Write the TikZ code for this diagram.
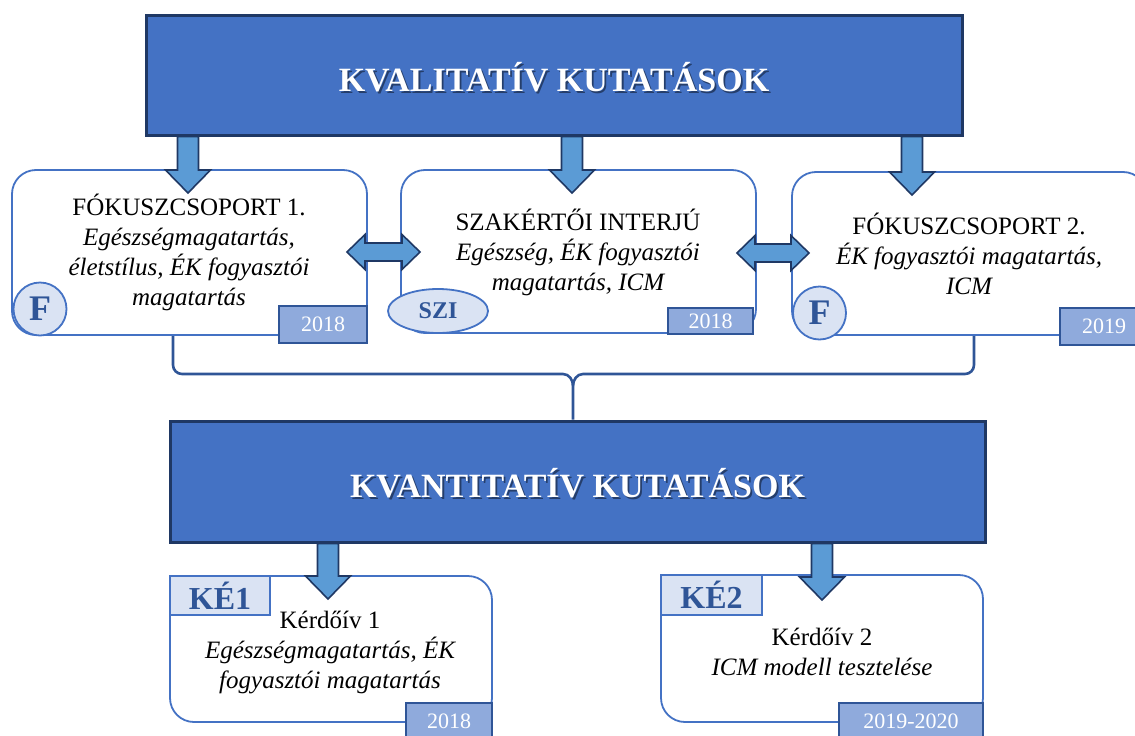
\documentclass[tikz,border=0pt]{standalone}
\usepackage{fontspec}
\setmainfont{Liberation Serif}[ItalicFont={Liberation Serif Italic},BoldFont={Liberation Serif Bold}]
\usetikzlibrary{calc,shapes.geometric}
\definecolor{bannerfill}{HTML}{4472C4}
\definecolor{bannerline}{HTML}{1F3864}
\definecolor{arrowfill}{HTML}{5B9BD5}
\definecolor{boxline}{HTML}{4472C4}
\definecolor{yearfill}{HTML}{8FAADC}
\definecolor{yearline}{HTML}{2F5597}
\definecolor{lightfill}{HTML}{DAE3F3}
\definecolor{darktext}{HTML}{2F5597}
\newcommand\dnarrow[2]{%
  \path let \p1=(#2), \p2=(#1.south) in
   [blockarrow] (\x1-10.5pt,\y2) -- (\x1+10.5pt,\y2) -- (\x1+10.5pt,\y1+23pt)
   -- (\x1+22.5pt,\y1+23pt) -- (\x1,\y1) -- (\x1-22.5pt,\y1+23pt)
   -- (\x1-10.5pt,\y1+23pt) -- cycle;}
\newcommand\dblarrow[2]{%
  \path let \p1=(#1), \p2=(#2) in
   [blockarrow] (\x1,\y1) -- (\x1+18pt,\y1+17.5pt) -- (\x1+18pt,\y1+9pt)
   -- (\x2-18pt,\y1+9pt) -- (\x2-18pt,\y1+17.5pt) -- (\x2,\y1)
   -- (\x2-18pt,\y1-17.5pt) -- (\x2-18pt,\y1-9pt) -- (\x1+18pt,\y1-9pt)
   -- (\x1+18pt,\y1-17.5pt) -- cycle;}
\begin{document}
\begin{tikzpicture}[x=1pt,y=-1pt,
  banner/.style={draw=bannerline,fill=bannerfill,line width=3pt,inner sep=0pt},
  titletext/.style={text=white,font=\fontsize{34}{40}\selectfont\bfseries,inner sep=0pt},
  titleshadow/.style={text=black,opacity=0.45,font=\fontsize{34}{40}\selectfont\bfseries,inner sep=0pt},
  rbox/.style={draw=boxline,fill=white,line width=1.8pt,rounded corners=24pt,inner sep=0pt},
  boxtext/.style={align=center,font=\fontsize{25}{30}\selectfont,inner sep=0pt},
  yearbox/.style={draw=yearline,fill=yearfill,line width=1.8pt,inner sep=0pt,
     text=white,font=\fontsize{22}{26}\selectfont,minimum height=37pt},
  fcircle/.style={circle,draw=boxline,fill=lightfill,line width=1.8pt,inner sep=0pt,
     minimum size=53pt,text=darktext,font=\fontsize{36}{40}\selectfont\bfseries},
  szell/.style={ellipse,draw=boxline,fill=lightfill,line width=1.8pt,inner sep=0pt,
     minimum width=100pt,minimum height=44pt,text=darktext,font=\fontsize{24}{28}\selectfont\bfseries},
  kelabel/.style={draw=boxline,fill=lightfill,line width=1.8pt,inner sep=0pt,
     minimum width=100pt,minimum height=39pt,text=darktext,font=\fontsize{32}{36}\selectfont\bfseries},
  blockarrow/.style={fill=arrowfill,draw=bannerline,line width=1.6pt,line join=miter},
  bracestyle/.style={draw=yearline,line width=2.6pt}]
\useasboundingbox (0,0) rectangle (1135,736);
\clip (0,0) rectangle (1135,736);

% banners
\node[banner,minimum width=816pt,minimum height=120pt] (kval) at (554,75) {};
\node[titleshadow] (kvalsh) at (555.8,78.8) {KVALITATÍV KUTATÁSOK};
\node[titletext] (kvaltitle) at (554,77) {KVALITATÍV KUTATÁSOK};

\node[banner,minimum width=815pt,minimum height=121pt] (kvan) at (577.5,481.5) {};
\node[titleshadow] (kvansh) at (579.3,484.8) {KVANTITATÍV KUTATÁSOK};
\node[titletext] (kvantitle) at (577.5,483) {KVANTITATÍV KUTATÁSOK};

% boxes
\node[rbox,minimum width=355pt,minimum height=165pt] (fg1) at (189.5,252.5) {};
\node[rbox,minimum width=355pt,minimum height=163pt] (szi) at (578.5,251.5) {};
\node[rbox,minimum width=355pt,minimum height=163pt] (fg2) at (969.5,253.5) {};
\node[rbox,minimum width=322pt,minimum height=146pt] (ke1) at (331,649) {};
\node[rbox,minimum width=322pt,minimum height=147pt] (ke2) at (822,648.5) {};

% texts
\node[boxtext] (fg1t) at (189,252) {FÓKUSZCSOPORT 1.\\ \itshape Egészségmagatartás,\\ \itshape életstílus, ÉK fogyasztói\\ \itshape magatartás};
\node[boxtext] (szit) at (578,252) {SZAKÉRTŐI INTERJÚ\\ \itshape Egészség, ÉK fogyasztói\\ \itshape magatartás, ICM};
\node[boxtext] (fg2t) at (969,254) {FÓKUSZCSOPORT 2.\\ \itshape ÉK fogyasztói magatartás,\\ \itshape ICM};
\node[boxtext] (ke1t) at (330,652) {Kérdőív 1\\ \itshape Egészségmagatartás, ÉK\\ \itshape fogyasztói magatartás};
\node[boxtext] (ke2t) at (822,652) {Kérdőív 2\\ \itshape ICM modell tesztelése};

% year boxes
\node[yearbox,minimum width=88pt] (y1) at (323,324.5) {2018};
\node[yearbox,minimum width=85pt,minimum height=26pt] (y2) at (710.5,321) {2018};
\node[yearbox,minimum width=88pt] (y3) at (1104,326.5) {2019};
\node[yearbox,minimum width=86pt] (y4) at (449,721.5) {};
\node[yearbox,minimum width=144pt] (y5) at (911,721.5) {};
\node[text=white,font=\fontsize{22}{26}\selectfont,inner sep=0pt] (y4t) at (449,721) {2018};
\node[text=white,font=\fontsize{22}{26}\selectfont,inner sep=0pt] (y5t) at (911,721) {2019-2020};

% badges
\node[fcircle] (f1) at (40,309) {F};
\node[szell] (sz) at (438,311) {SZI};
\node[fcircle] (f2) at (819.5,313) {F};
\node[kelabel] (k1) at (220,595.5) {KÉ1};
\node[kelabel,minimum width=101pt,minimum height=40pt] (k2) at (711.5,595) {KÉ2};

% arrows
\coordinate (t1) at (188,193);
\coordinate (t2) at (572,193);
\coordinate (t3) at (912,195);
\coordinate (t4) at (328,599);
\coordinate (t5) at (822,600);
\dnarrow{kval}{t1}
\dnarrow{kval}{t2}
\dnarrow{kval}{t3}
\dnarrow{kvan}{t4}
\dnarrow{kvan}{t5}

\coordinate (d1l) at (347,252);
\coordinate (d1r) at (420,252);
\coordinate (d2l) at (737,253);
\coordinate (d2r) at (809,253);
\dblarrow{d1l}{d1r}
\dblarrow{d2l}{d2r}

% brace
\coordinate (bl) at (173,336);
\coordinate (br) at (974,336);
\coordinate (bm) at (573,386);
\draw[bracestyle] (bl) -- (173,365) to[out=-90,in=180] (182,374) -- (563,374)
  to[out=0,in=90] (bm) -- (bm |- kvan.north);
\draw[bracestyle] (br) -- (974,365) to[out=-90,in=0] (965,374) -- (583,374)
  to[out=180,in=90] (bm);
\end{tikzpicture}
\end{document}
